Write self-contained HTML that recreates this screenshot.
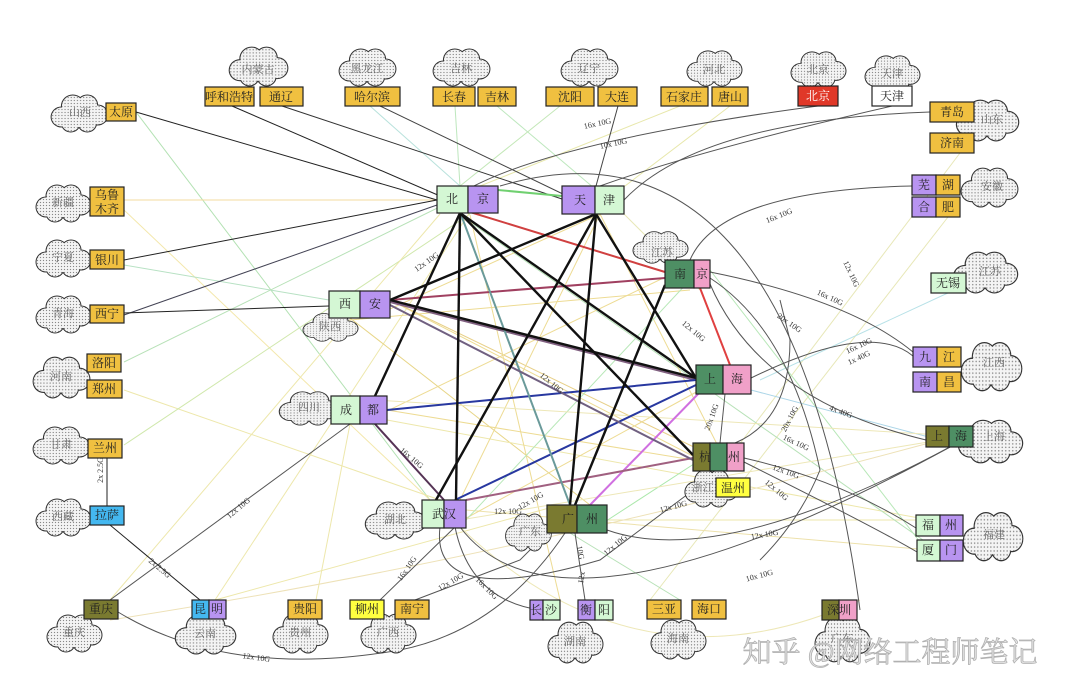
<!DOCTYPE html>
<html><head><meta charset="utf-8"><style>
html,body{margin:0;padding:0;background:#fff;}
svg{display:block;}
text{font-family:"Liberation Serif","Noto Serif CJK SC","Noto Sans CJK SC",serif;}
.n{font-size:12px;fill:#222;text-anchor:middle;dominant-baseline:central;}
.c{font-size:11px;fill:#666;text-anchor:middle;dominant-baseline:central;}
.l{font-family:"Liberation Sans",sans-serif;font-size:8px;fill:#333;text-anchor:middle;}
.b{stroke:#222;stroke-width:1.2;}
</style></head><body>
<svg width="1080" height="697" viewBox="0 0 1080 697" xmlns="http://www.w3.org/2000/svg">
<defs>
<pattern id="d" width="3" height="3" patternUnits="userSpaceOnUse"><rect width="3" height="3" fill="#f4f4f4"/><circle cx="1.5" cy="1.5" r="0.65" fill="#888"/></pattern>
<symbol id="cl" viewBox="0 0 60 40" preserveAspectRatio="none">
<g fill="#333"><circle cx="13" cy="24" r="10.5"/><circle cx="24" cy="13" r="11.5"/><circle cx="38" cy="12" r="10.5"/><circle cx="48" cy="22" r="10.5"/><circle cx="38" cy="30" r="9.5"/><circle cx="22" cy="30" r="9.5"/></g>
<g fill="url(#d)"><circle cx="13" cy="24" r="9.5"/><circle cx="24" cy="13" r="10.5"/><circle cx="38" cy="12" r="9.5"/><circle cx="48" cy="22" r="9.5"/><circle cx="38" cy="30" r="8.5"/><circle cx="22" cy="30" r="8.5"/><circle cx="30" cy="22" r="12"/></g>
</symbol>
</defs>
<rect width="1080" height="697" fill="#fff"/>

<g fill="none" stroke-width="1" opacity="0.75">
<path d="M136 112 L430 500" stroke="#9ad89a"/>
<path d="M124 200 L437 200" stroke="#f0d080"/>
<path d="M124 210 L430 500" stroke="#f0e090"/>
<path d="M124 265 L329 300" stroke="#a0d8b0"/>
<path d="M124 362 L470 192" stroke="#a0d8a0"/>
<path d="M124 390 L440 500" stroke="#e8e090"/>
<path d="M124 445 L470 214" stroke="#c0e090"/>
<path d="M110 600 L440 214" stroke="#e8e090"/>
<path d="M215 600 L470 212" stroke="#e8e090"/>
<path d="M215 600 L560 505" stroke="#e8e090"/>
<path d="M316 600 L350 424" stroke="#e8e090"/>
<path d="M350 318 L590 505" stroke="#e0c860"/>
<path d="M455 106 L460 186" stroke="#a8e0a8"/>
<path d="M497 106 L620 210" stroke="#a8e0a8"/>
<path d="M370 106 L460 186" stroke="#a0d8d0"/>
<path d="M560 106 L460 186" stroke="#b0e0a0"/>
<path d="M680 106 L470 190" stroke="#e0e090"/>
<path d="M730 106 L600 205" stroke="#e0e090"/>
<path d="M620 210 L700 290" stroke="#e0e0a0"/>
<path d="M960 153 L720 470" stroke="#e0e0a0"/>
<path d="M948 217 L650 600" stroke="#e0e0a0"/>
<path d="M950 292 L760 380" stroke="#a0d8e0"/>
<path d="M751 390 L940 440" stroke="#90c8e0"/>
<path d="M387 420 L930 520" stroke="#e8e090"/>
<path d="M466 510 L930 550" stroke="#e8d890"/>
<path d="M607 520 L930 520" stroke="#e8e090"/>
<path d="M710 270 L930 555" stroke="#a0e0a0"/>
<path d="M460 215 L930 545" stroke="#a0d8a0"/>
<path d="M390 300 L720 470" stroke="#e8d070"/>
<path d="M390 300 L700 450" stroke="#e0c060"/>
<path d="M350 320 L690 290" stroke="#e8d070"/>
<path d="M360 424 L680 270" stroke="#e8d070"/>
<path d="M387 410 L693 460" stroke="#e8d070"/>
<path d="M470 215 L560 600" stroke="#e8d070"/>
<path d="M600 214 L460 500" stroke="#e8d070"/>
<path d="M600 214 L370 318" stroke="#e8d070"/>
<path d="M600 214 L720 450" stroke="#e8d070"/>
<path d="M450 527 L700 390" stroke="#e8d070"/>
<path d="M460 527 Q640 700 860 600" stroke="#e8e0a0"/>
<path d="M570 533 L680 600" stroke="#a0d8a0"/>
<path d="M466 520 L690 280" stroke="#a0e0a0"/>
<path d="M600 525 L700 460" stroke="#8fe08f"/>
<path d="M460 520 L940 440" stroke="#e8e0a0"/>
<path d="M375 400 L940 435" stroke="#e8e0a0"/>
<path d="M110 620 Q500 560 940 440" stroke="#e8d8a0"/>
</g>

<g fill="none" stroke="#555" stroke-width="1">
<path d="M136 112 L437 200" stroke="#222"/>
<path d="M232 106 L440 196" stroke="#222"/>
<path d="M282 106 L565 200" stroke="#333"/>
<path d="M380 106 L565 195" stroke="#444"/>
<path d="M618 106 L596 186" stroke="#444"/>
<path d="M124 260 L437 200" stroke="#222"/>
<path d="M124 315 L437 205" stroke="#445"/>
<path d="M124 313 L329 306" stroke="#222"/>
<path d="M818 106 Q560 140 470 188"/>
<path d="M892 106 Q700 150 600 186"/>
<path d="M930 112 Q700 120 624 200"/>
<path d="M912 186 Q720 190 690 260"/>
<path d="M710 272 Q850 300 913 352"/>
<path d="M710 278 Q790 330 820 470 Q800 520 760 560"/>
<path d="M710 284 Q760 400 926 440"/>
<path d="M500 186 Q790 100 860 610"/>
<path d="M751 378 Q870 320 913 356"/>
<path d="M744 458 Q840 480 916 528"/>
<path d="M744 462 Q880 530 917 552"/>
<path d="M720 443 L725 394"/>
<path d="M735 443 Q790 420 790 340 L780 300"/>
<path d="M607 530 Q720 570 950 447"/>
<path d="M460 527 Q560 660 950 447"/>
<path d="M440 527 Q430 610 600 560 L720 470"/>
<path d="M575 533 L585 600"/>
<path d="M455 527 L380 600"/>
<path d="M455 527 Q470 600 540 610"/>
<path d="M415 600 L520 560 L540 540"/>
<path d="M350 424 L110 600"/>
<path d="M375 424 L444 500" stroke="#535" stroke-width="2"/>
<path d="M107 458 L107 506" stroke="#222"/>
<path d="M110 525 L200 600" stroke="#222"/>
<path d="M118 612 Q230 680 400 650 Q500 630 565 533"/>
</g>

<g fill="none" stroke-width="2">
<path d="M498 190 L562 196" stroke="#70d070"/>
<path d="M470 212 L665 272" stroke="#d04040"/>
<path d="M700 288 L730 365" stroke="#e04040"/>
<path d="M390 300 L665 278" stroke="#a04060"/>
<path d="M390 302 L696 380" stroke="#806080"/>
<path d="M387 410 L696 380" stroke="#2838a0"/>
<path d="M455 500 L696 385" stroke="#2838a0"/>
<path d="M590 505 L700 392" stroke="#d070e0"/>
<path d="M466 500 L693 458" stroke="#a06080"/>
<path d="M460 212 L570 505" stroke="#6a9a9a"/>
<path d="M390 305 L693 460" stroke="#706080"/>
</g>
<g fill="none" stroke="#111" stroke-width="2.4">
<path d="M460 213 L696 378"/>
<path d="M460 213 L693 455"/>
<path d="M460 213 L456 500"/>
<path d="M460 213 L375 396"/>
<path d="M596 214 L390 300"/>
<path d="M596 214 L570 505"/>
<path d="M596 214 L696 378"/>
<path d="M596 214 L436 500"/>
<path d="M390 300 L696 378"/>
<path d="M665 285 L575 505"/>
</g>

<g class="l">
<text transform="translate(428,264) rotate(-35)">12x 10G</text>
<text transform="translate(598,126) rotate(-12)">16x 10G</text>
<text transform="translate(614,146) rotate(-12)">10x 10G</text>
<text transform="translate(780,218) rotate(-22)">16x 10G</text>
<text transform="translate(849,275) rotate(65)">12x 10G</text>
<text transform="translate(829,300) rotate(25)">16x 10G</text>
<text transform="translate(788,325) rotate(35)">20x 10G</text>
<text transform="translate(692,333) rotate(40)">12x 10G</text>
<text transform="translate(550,385) rotate(40)">12x 10G</text>
<text transform="translate(860,348) rotate(-25)">16x 10G</text>
<text transform="translate(860,360) rotate(-25)">1x 40G</text>
<text transform="translate(840,414) rotate(20)">4x 40G</text>
<text transform="translate(792,420) rotate(-62)">20x 10G</text>
<text transform="translate(714,418) rotate(-70)">20x 10G</text>
<text transform="translate(795,445) rotate(25)">16x 10G</text>
<text transform="translate(785,474) rotate(20)">12x 10G</text>
<text transform="translate(775,492) rotate(40)">12x 10G</text>
<text transform="translate(674,509) rotate(-15)">12x 10G</text>
<text transform="translate(765,537) rotate(-10)">12x 10G</text>
<text transform="translate(760,578) rotate(-15)">10x 10G</text>
<text transform="translate(532,503) rotate(-30)">12x 10G</text>
<text transform="translate(508,514)">12x 10G</text>
<text transform="translate(410,460) rotate(40)">16x 10G</text>
<text transform="translate(240,510) rotate(-40)">12x 10G</text>
<text transform="translate(409,570) rotate(-55)">16x 10G</text>
<text transform="translate(452,584) rotate(-30)">12x 10G</text>
<text transform="translate(485,590) rotate(45)">16x 10G</text>
<text transform="translate(617,547) rotate(-40)">12x 10G</text>
<text transform="translate(578,553) rotate(80)">10G</text>
<text transform="translate(584,578) rotate(-80)">12x</text>
<text transform="translate(256,660) rotate(8)">12x 10G</text>
<text transform="translate(103,470) rotate(-90)">2x 2.5G</text>
<text transform="translate(158,570) rotate(40)">2x 2.5G</text>
</g>

<g>
<use href="#cl" x="48" y="93" width="62" height="40"/>
<use href="#cl" x="226" y="45" width="64" height="42"/>
<use href="#cl" x="336" y="47" width="62" height="40"/>
<use href="#cl" x="430" y="47" width="62" height="40"/>
<use href="#cl" x="558" y="47" width="62" height="40"/>
<use href="#cl" x="684" y="49" width="60" height="38"/>
<use href="#cl" x="788" y="50" width="60" height="38"/>
<use href="#cl" x="862" y="54" width="60" height="38"/>
<use href="#cl" x="953" y="98" width="68" height="44"/>
<use href="#cl" x="958" y="166" width="62" height="42"/>
<use href="#cl" x="950" y="250" width="70" height="44"/>
<use href="#cl" x="630" y="230" width="60" height="34"/>
<use href="#cl" x="958" y="340" width="66" height="52"/>
<use href="#cl" x="955" y="418" width="70" height="46"/>
<use href="#cl" x="960" y="510" width="65" height="52"/>
<use href="#cl" x="33" y="183" width="60" height="40"/>
<use href="#cl" x="33" y="238" width="60" height="40"/>
<use href="#cl" x="33" y="294" width="60" height="40"/>
<use href="#cl" x="30" y="355" width="62" height="44"/>
<use href="#cl" x="30" y="425" width="62" height="40"/>
<use href="#cl" x="33" y="497" width="60" height="40"/>
<use href="#cl" x="44" y="613" width="60" height="40"/>
<use href="#cl" x="172" y="613" width="66" height="42"/>
<use href="#cl" x="270" y="612" width="60" height="42"/>
<use href="#cl" x="358" y="612" width="60" height="42"/>
<use href="#cl" x="545" y="620" width="60" height="44"/>
<use href="#cl" x="648" y="618" width="60" height="42"/>
<use href="#cl" x="812" y="615" width="60" height="48"/>
<use href="#cl" x="300" y="312" width="60" height="30"/>
<use href="#cl" x="276" y="390" width="66" height="36"/>
<use href="#cl" x="362" y="500" width="66" height="40"/>
<use href="#cl" x="682" y="468" width="58" height="40"/>
<use href="#cl" x="503" y="512" width="50" height="40"/>
</g>
<g class="c">
<text x="80" y="113">山西</text><text x="258" y="70">内蒙古</text><text x="367" y="69">黑龙江</text>
<text x="461" y="69">吉林</text><text x="589" y="69">辽宁</text><text x="714" y="70">河北</text>
<text x="818" y="70">北京</text><text x="892" y="74">天津</text><text x="992" y="120">山东</text>
<text x="992" y="187">安徽</text><text x="990" y="272">江苏</text><text x="662" y="253">江苏</text>
<text x="994" y="363">江西</text><text x="994" y="437">上海</text><text x="994" y="535">福建</text>
<text x="63" y="203">新疆</text><text x="63" y="258">宁夏</text><text x="63" y="314">青海</text>
<text x="61" y="377">河南</text><text x="61" y="445">甘肃</text><text x="63" y="517">西藏</text>
<text x="74" y="633">重庆</text><text x="205" y="634">云南</text><text x="300" y="633">贵州</text>
<text x="388" y="633">广西</text><text x="575" y="642">湖南</text><text x="678" y="639">海南</text>
<text x="842" y="639">广东</text><text x="330" y="327">陕西</text><text x="309" y="408">四川</text>
<text x="395" y="520">湖北</text><text x="703" y="488">浙江</text><text x="530" y="532">广东</text>
</g>

<g class="b">
<rect x="106" y="103" width="30" height="18" fill="#f0c040"/>
<rect x="205" y="87" width="49" height="19" fill="#f0c040"/><rect x="260" y="87" width="43" height="19" fill="#f0c040"/>
<rect x="345" y="87" width="55" height="19" fill="#f0c040"/>
<rect x="433" y="87" width="42" height="19" fill="#f0c040"/><rect x="478" y="87" width="38" height="19" fill="#f0c040"/>
<rect x="546" y="87" width="48" height="19" fill="#f0c040"/><rect x="598" y="87" width="39" height="19" fill="#f0c040"/>
<rect x="661" y="87" width="47" height="19" fill="#f0c040"/><rect x="712" y="87" width="36" height="19" fill="#f0c040"/>
<rect x="798" y="86" width="40" height="20" fill="#e03828"/>
<rect x="872" y="86" width="40" height="20" fill="#fff"/>
<rect x="930" y="102" width="44" height="20" fill="#f0c040"/><rect x="930" y="133" width="44" height="20" fill="#f0c040"/>
<rect x="912" y="175" width="24" height="20" fill="#b894f0"/><rect x="936" y="175" width="24" height="20" fill="#f0c040"/>
<rect x="912" y="197" width="24" height="20" fill="#b894f0"/><rect x="936" y="197" width="24" height="20" fill="#f0c040"/>
<rect x="931" y="273" width="35" height="20" fill="#d4f7d4"/>
<rect x="913" y="347" width="24" height="20" fill="#b894f0"/><rect x="937" y="347" width="24" height="20" fill="#f0c040"/>
<rect x="913" y="372" width="24" height="20" fill="#b894f0"/><rect x="937" y="372" width="24" height="20" fill="#f0c040"/>
<rect x="926" y="426" width="23" height="21" fill="#7a7a30"/><rect x="949" y="426" width="24" height="21" fill="#4e8f64"/>
<rect x="916" y="515" width="24" height="21" fill="#d4f7d4"/><rect x="940" y="515" width="23" height="21" fill="#b894f0"/>
<rect x="917" y="540" width="23" height="21" fill="#d4f7d4"/><rect x="940" y="540" width="23" height="21" fill="#b894f0"/>
<rect x="90" y="187" width="34" height="29" fill="#f0c040"/>
<rect x="90" y="250" width="34" height="19" fill="#f0c040"/>
<rect x="90" y="305" width="34" height="18" fill="#f0c040"/>
<rect x="87" y="354" width="34" height="18" fill="#f0c040"/><rect x="87" y="380" width="35" height="18" fill="#f0c040"/>
<rect x="88" y="439" width="34" height="19" fill="#f0c040"/>
<rect x="90" y="506" width="34" height="19" fill="#44b8f0"/>
<rect x="84" y="600" width="34" height="19" fill="#7a7a30"/>
<rect x="192" y="600" width="17" height="19" fill="#44b8f0"/><rect x="209" y="600" width="17" height="19" fill="#b894f0"/>
<rect x="288" y="600" width="34" height="19" fill="#f0c040"/>
<rect x="350" y="600" width="34" height="19" fill="#ffff40"/><rect x="395" y="600" width="34" height="19" fill="#f0c040"/>
<rect x="530" y="600" width="13" height="20" fill="#b894f0"/><rect x="543" y="600" width="17" height="20" fill="#d4f7d4"/>
<rect x="578" y="600" width="17" height="20" fill="#b894f0"/><rect x="595" y="600" width="18" height="20" fill="#d4f7d4"/>
<rect x="647" y="600" width="34" height="19" fill="#f0c040"/><rect x="692" y="600" width="34" height="19" fill="#f0c040"/>
<rect x="822" y="600" width="17" height="20" fill="#7a7a30"/><rect x="839" y="600" width="18" height="20" fill="#f0a0c8"/>
<rect x="437" y="186" width="31" height="27" fill="#d4f7d4"/><rect x="468" y="186" width="30" height="27" fill="#b894f0"/>
<rect x="562" y="186" width="33" height="28" fill="#b894f0"/><rect x="595" y="186" width="29" height="28" fill="#d4f7d4"/>
<rect x="329" y="291" width="31" height="27" fill="#d4f7d4"/><rect x="360" y="291" width="30" height="27" fill="#b894f0"/>
<rect x="331" y="396" width="29" height="28" fill="#d4f7d4"/><rect x="360" y="396" width="27" height="28" fill="#b894f0"/>
<rect x="665" y="260" width="29" height="28" fill="#4e8f64"/><rect x="694" y="260" width="16" height="28" fill="#f0a0c8"/>
<rect x="696" y="365" width="27" height="29" fill="#4e8f64"/><rect x="723" y="365" width="28" height="29" fill="#f0a0c8"/>
<rect x="693" y="443" width="17" height="28" fill="#7a7a30"/><rect x="710" y="443" width="17" height="28" fill="#4e8f64"/><rect x="727" y="443" width="17" height="28" fill="#f0a0c8"/>
<rect x="716" y="478" width="34" height="19" fill="#ffff40"/>
<rect x="422" y="500" width="22" height="28" fill="#d4f7d4"/><rect x="444" y="500" width="22" height="28" fill="#b894f0"/>
<rect x="547" y="505" width="30" height="28" fill="#7a7a30"/><rect x="577" y="505" width="30" height="28" fill="#4e8f64"/>
</g>
<g class="n">
<text x="121" y="112">太原</text><text x="229" y="97">呼和浩特</text><text x="281" y="97">通辽</text>
<text x="372" y="97">哈尔滨</text><text x="454" y="97">长春</text><text x="497" y="97">吉林</text>
<text x="570" y="97">沈阳</text><text x="617" y="97">大连</text><text x="684" y="97">石家庄</text><text x="730" y="97">唐山</text>
<text x="818" y="96" fill="#fff">北京</text><text x="892" y="96">天津</text>
<text x="952" y="112">青岛</text><text x="952" y="143">济南</text>
<text x="924" y="185">芜</text><text x="948" y="185">湖</text><text x="924" y="207">合</text><text x="948" y="207">肥</text>
<text x="948" y="283">无锡</text>
<text x="925" y="357">九</text><text x="949" y="357">江</text><text x="925" y="382">南</text><text x="949" y="382">昌</text>
<text x="937" y="436">上</text><text x="961" y="436">海</text>
<text x="928" y="525">福</text><text x="951" y="525">州</text><text x="928" y="550">厦</text><text x="951" y="550">门</text>
<text x="107" y="195">乌鲁</text><text x="107" y="209">木齐</text>
<text x="107" y="260">银川</text><text x="107" y="314">西宁</text><text x="104" y="363">洛阳</text><text x="104" y="389">郑州</text>
<text x="105" y="448">兰州</text><text x="107" y="515">拉萨</text><text x="101" y="609">重庆</text>
<text x="200" y="609">昆</text><text x="217" y="609">明</text><text x="305" y="609">贵阳</text>
<text x="367" y="609">柳州</text><text x="412" y="609">南宁</text>
<text x="536" y="610">长</text><text x="551" y="610">沙</text><text x="586" y="610">衡</text><text x="604" y="610">阳</text>
<text x="664" y="609">三亚</text><text x="709" y="609">海口</text>
<text x="839" y="610">深圳</text>
<text x="452" y="199">北</text><text x="483" y="199">京</text>
<text x="580" y="200">天</text><text x="609" y="200">津</text>
<text x="345" y="304">西</text><text x="375" y="304">安</text>
<text x="346" y="410">成</text><text x="373" y="410">都</text>
<text x="680" y="274">南</text><text x="702" y="274">京</text>
<text x="710" y="379">上</text><text x="737" y="379">海</text>
<text x="705" y="457">杭</text><text x="734" y="457">州</text>
<text x="733" y="488">温州</text>
<text x="444" y="514">武汉</text>
<text x="568" y="519">广</text><text x="592" y="519">州</text>
</g>

<text x="890" y="662" text-anchor="middle" font-family="Liberation Sans,Noto Sans CJK SC,sans-serif" font-size="29" fill="#e4e4e4" stroke="#b0b0b0" stroke-width="0.8">知乎 @网络工程师笔记</text>
</svg>
</body></html>
